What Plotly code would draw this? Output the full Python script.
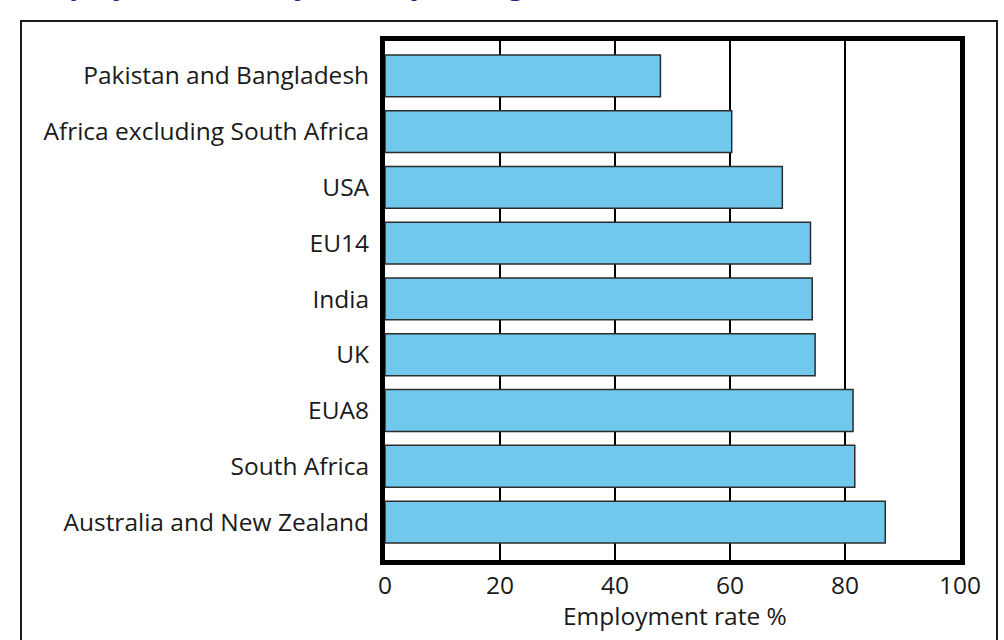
import plotly.graph_objects as go

# Employment rate (%) by country of birth, top row first
countries = [
    "Pakistan and Bangladesh",
    "Africa excluding South Africa",
    "USA",
    "EU14",
    "India",
    "UK",
    "EUA8",
    "South Africa",
    "Australia and New Zealand",
]
employment_rate = [47.9, 60.3, 69.1, 74.0, 74.3, 74.8, 81.4, 81.7, 87.0]
x_ticks = [0, 20, 40, 60, 80, 100]

W, H = 1004, 640
L, R, T, B = 385, 44, 41, 80
PW, PH = W - L - R, H - T - B


def px_x(p):
    return (p - L) / PW


def px_y(p):
    return (H - B - p) / PH


text_font = dict(family="Open Sans", size=24.5, color="#1a1a1a")

fig = go.Figure(
    go.Bar(
        x=employment_rate[::-1],
        y=countries[::-1],
        orientation="h",
        width=0.75,
        marker=dict(color="#70C8EC", line=dict(color="#2b2b2b", width=1.5)),
        hoverinfo="x+y",
    )
)

fig.update_layout(
    width=W,
    height=H,
    margin=dict(l=L, r=R, t=T, b=B, pad=0),
    paper_bgcolor="white",
    plot_bgcolor="white",
    showlegend=False,
    font=text_font,
    xaxis=dict(
        range=[0, 100],
        tickvals=x_ticks,
        ticktext=[str(v) for v in x_ticks],
        showgrid=True,
        gridcolor="black",
        gridwidth=2,
        zeroline=False,
        showline=True,
        linecolor="black",
        linewidth=5,
        mirror=True,
        ticks="",
        tickfont=text_font,
    ),
    yaxis=dict(
        type="category",
        categoryorder="array",
        categoryarray=countries[::-1],
        range=[-0.68, 8.624],
        showgrid=False,
        zeroline=False,
        showline=True,
        linecolor="black",
        linewidth=5,
        mirror=True,
        ticks="",
        ticklabelstandoff=6,
        tickfont=text_font,
    ),
    shapes=[
        dict(
            type="rect",
            xref="paper",
            yref="paper",
            x0=px_x(21),
            x1=px_x(997),
            y0=px_y(660),
            y1=px_y(21),
            line=dict(color="#1a1a1a", width=2),
            fillcolor="rgba(0,0,0,0)",
            layer="below",
        )
    ],
    annotations=[
        # heading running off the top of the page
        dict(
            text="Employment rate by country of origin",
            xref="paper",
            yref="paper",
            x=px_x(24),
            y=px_y(4.5),
            xanchor="left",
            yanchor="bottom",
            showarrow=False,
            font=dict(family="Open Sans", size=28, color="#1b2a84", weight="bold"),
        ),
        # x-axis title
        dict(
            text="Employment rate %",
            xref="paper",
            yref="paper",
            x=px_x(675),
            y=px_y(615),
            xanchor="center",
            yanchor="middle",
            showarrow=False,
            font=text_font,
        ),
    ],
)

fig.write_html("out.html")
